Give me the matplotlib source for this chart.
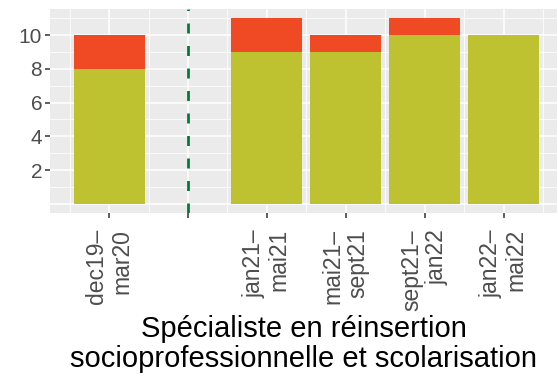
import numpy as np
import matplotlib.pyplot as plt

plt.rcParams['font.family'] = ['Liberation Sans', 'DejaVu Sans']

# periods (empty slot is the break marked by the dashed line)
periods = ["dec19–\nmar20", "", "jan21–\nmai21", "mai21–\nsept21",
           "sept21–\njan22", "jan22–\nmai22"]
base_vals = [8, 0, 9, 9, 10, 10]
top_vals = [2, 0, 2, 1, 1, 0]
y_ticks = [2, 4, 6, 8, 10]
title = "Spécialiste en réinsertion\nsocioprofessionnelle et scolarisation"

col_base = "#BEC230"
col_top = "#F04A24"
col_break = "#047A3A"

fig = plt.figure(figsize=(5.58, 3.77), dpi=100)
ax = fig.add_axes([0.0896, 0.435, 0.909, 0.541])
ax.set_facecolor("#EBEBEB")

x = np.arange(1, len(periods) + 1)
ax.set_xlim(0.25, 6.68)
ax.set_ylim(-0.55, 11.55)

# grid like ggplot: major + minor
for yv in range(0, 12):
    lw = 1.1 if yv % 2 == 0 else 0.55
    ax.axhline(yv, color="white", lw=lw, zorder=0)
for xv in x:
    ax.axvline(xv, color="white", lw=1.1, zorder=0)
for xv in np.arange(0.5, 7, 1):
    ax.axvline(xv, color="white", lw=0.55, zorder=0)

ax.bar(x, base_vals, width=0.9, color=col_base, zorder=2)
ax.bar(x, top_vals, width=0.9, bottom=base_vals, color=col_top, zorder=2)

ax.axvline(2, color=col_break, lw=2.0, ls=(0, (3.6, 4.5)), zorder=3)

for s in ax.spines.values():
    s.set_visible(False)

ax.set_yticks(y_ticks)
ax.set_yticklabels([str(v) for v in y_ticks])
ax.set_xticks(x)
ax.set_xticklabels(periods, rotation=90, va="top", ha="center",
                   multialignment="right", linespacing=1.1)
ax.tick_params(axis="both", colors="#333333", labelcolor="#4D4D4D",
               length=3.6, width=1.1)
ax.tick_params(axis="x", pad=8, labelsize=16.5)
ax.tick_params(axis="y", pad=2, labelsize=15)

ax.set_xlabel(title, fontsize=21, color="black", linespacing=1.08, labelpad=3)

fig.savefig("out.png", dpi=100)
